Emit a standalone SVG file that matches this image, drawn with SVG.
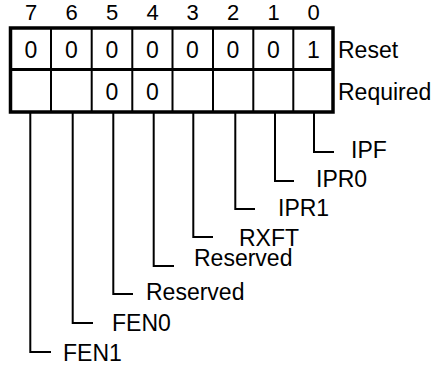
<svg xmlns="http://www.w3.org/2000/svg" width="435" height="367" viewBox="0 0 435 367">
<style>
text{font-family:"Liberation Sans",Arial,sans-serif;font-size:23px;fill:#000}
.c{text-anchor:middle}
.h{font-size:22px}
.outer{fill:none;stroke:#000;stroke-width:3.5}
.grid{stroke:#000;stroke-width:2;fill:none}
.mid{stroke:#000;stroke-width:3;fill:none}
.conn{stroke:#000;stroke-width:2;fill:none}
</style>
<rect width="435" height="367" fill="#fff"/>
<g id="header">
<text class="c h" x="31" y="20">7</text>
<text class="c h" x="71.5" y="20">6</text>
<text class="c h" x="112" y="20">5</text>
<text class="c h" x="152.5" y="20">4</text>
<text class="c h" x="192.5" y="20">3</text>
<text class="c h" x="233" y="20">2</text>
<text class="c h" x="273.5" y="20">1</text>
<text class="c h" x="313.5" y="20">0</text>
</g>
<g id="register">
<rect class="outer" x="10.5" y="28" width="322.5" height="84"/>
<line class="mid" x1="10.5" y1="69.5" x2="333" y2="69.5"/>
<path class="grid" d="M51 28V112M91.7 28V112M132.3 28V112M172.5 28V112M213 28V112M253.3 28V112M293.3 28V112"/>
<text class="c" x="31" y="58">0</text>
<text class="c" x="71.5" y="58">0</text>
<text class="c" x="112" y="58">0</text>
<text class="c" x="152.5" y="58">0</text>
<text class="c" x="192.5" y="58">0</text>
<text class="c" x="233" y="58">0</text>
<text class="c" x="273.5" y="58">0</text>
<text class="c" x="313.5" y="58">1</text>
<text class="c" x="112" y="100">0</text>
<text class="c" x="152.5" y="100">0</text>
<text x="338" y="58">Reset</text>
<text x="338" y="100">Required</text>
</g>
<g id="connectors">
<path class="conn" d="M314 112V152H334"/>
<path class="conn" d="M275 112V181H294"/>
<path class="conn" d="M235.3 112V209H255"/>
<path class="conn" d="M193.3 112V237H213"/>
<path class="conn" d="M153.7 112V266H174"/>
<path class="conn" d="M113.3 112V294H133"/>
<path class="conn" d="M72.7 112V323H93"/>
<path class="conn" d="M30.3 112V352H51"/>
</g>
<g id="bit0"><text x="351" y="158">IPF</text></g>
<g id="bit1"><text x="316" y="187">IPR0</text></g>
<g id="bit2"><text x="278" y="216">IPR1</text></g>
<g id="bit3"><text x="239" y="246">RXFT</text></g>
<g id="bit4"><text x="194" y="266">Reserved</text></g>
<g id="bit5"><text x="146" y="300">Reserved</text></g>
<g id="bit6"><text x="112" y="331">FEN0</text></g>
<g id="bit7"><text x="63" y="361">FEN1</text></g>
</svg>
